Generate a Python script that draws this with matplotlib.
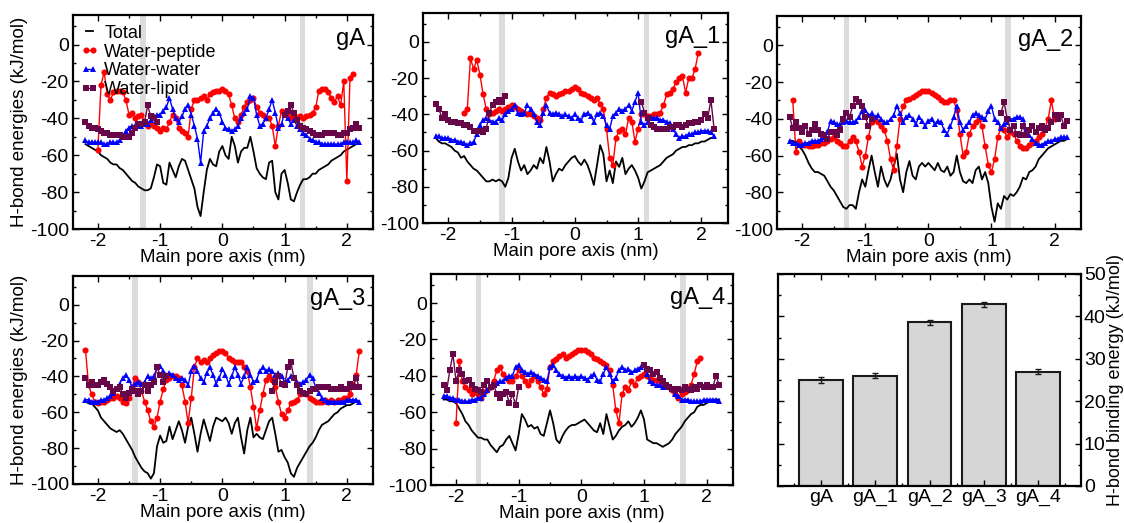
import numpy as np
import matplotlib
matplotlib.use("Agg")
import matplotlib.pyplot as plt
from matplotlib.ticker import MultipleLocator

plt.rcParams['font.family'] = ['Liberation Sans', 'DejaVu Sans']
plt.rcParams['axes.unicode_minus'] = False

nan = np.nan

# sampling positions along the pore axis (nm), 0.05 nm apart
pore_x = np.round(np.linspace(-2.2, 2.2, 89), 2)

# ---- gA ----
gA_total = [-54, -55, -56, -57, -58, -60, -61, -62, -64, -65,
            -65, -67, -68, -70, -72, -74, -75, -77, -78, -79,
            -79, -78, -72, -65, -66, -75, -76, -64, -68, -72,
            -66, -62, -63, -68, -73, -78, -88, -93, -80, -68,
            -62, -65, -66, -58, -55, -60, -62, -50, -55, -64,
            -58, -56, -56, -50, -58, -67, -70, -72, -73, -64,
            -63, -80, -84, -70, -68, -75, -84, -85, -80, -76,
            -73, -73, -72, -70, -70, -68, -67, -66, -65, -63,
            -62, -61, -60, -58, -57, -56, -55, -54, -53]
gA_pep = [nan, nan, nan, nan, -57, -22, -15, -27, -30, -26,
          -25, -25, -26, -30, -38, -37, -40, -39, -38, -42,
          -44, -43, -44, -45, -47, -45, -46, -42, -38, -40,
          -45, -47, -48, -50, -35, -30, -30, -29, -28, -30,
          -27, -26, -25, -25, -24, -25, -27, -33, -40, -42,
          -38, -34, -31, -30, -29, -34, -37, -38, -40, -40,
          -44, -55, -44, -36, -37, -39, -40, -38, -40, -39,
          -40, -39, -38, -37, -34, -25, -24, -24, -26, -29,
          -31, -28, -33, -20, -74, -18, -16, nan, nan]
gA_ww = [-52, -53, -53, -53, -53, -53, -54, -54, -53, -53,
         -53, -52, -50, -47, -45, -44, -44, -44, -44, -43,
         -43, -41, -39, -38, -38, -36, -34, -29, -35, -40,
         -42, -39, -35, -33, -38, -44, -51, -64, -47, -44,
         -40, -37, -35, -37, -42, -45, -46, -47, -46, -44,
         -40, -37, -35, -28, -29, -38, -44, -43, -40, -35,
         -30, -37, -45, -43, -37, -40, -43, -41, -44, -46,
         -48, -49, -51, -52, -53, -53, -54, -54, -54, -54,
         -54, -54, -54, -53, -53, -53, -53, -52, -53]
gA_lip = [-42, -44, -45, -45, -46, -47, -48, -48, -49, -49,
          -49, -49, -50, -50, -50, -48, -45, -43, -43, -42,
          -33, -39, -40, -42, nan, nan, nan, nan, nan, nan,
          nan, nan, nan, nan, nan, nan, nan, nan, nan, nan,
          nan, nan, nan, nan, nan, nan, nan, nan, nan, nan,
          nan, nan, nan, nan, nan, nan, nan, nan, nan, nan,
          nan, nan, nan, nan, -38, -36, -33, -37, -41, -44,
          -45, -46, -47, -48, -49, -49, -49, -48, -48, -48,
          -48, -49, -49, -48, -48, -46, -45, -43, -45]

# ---- gA_1 ----
gA1_total = [-53, -55, -56, -56, -57, -58, -60, -61, -64, -63,
             -66, -68, -70, -71, -73, -75, -77, -77, -76, -77,
             -76, -77, -80, -75, -64, -59, -66, -71, -68, -73,
             -71, -68, -70, -64, -67, -58, -66, -77, -73, -70,
             -71, -68, -66, -64, -63, -66, -68, -65, -68, -73,
             -79, -68, -57, -62, -77, -71, -78, -66, -69, -64,
             -73, -70, -68, -71, -75, -81, -77, -72, -71, -70,
             -69, -68, -66, -64, -63, -62, -60, -59, -58, -58,
             -57, -57, -56, -56, -55, -55, -54, -53, -53]
gA1_pep = [nan, nan, nan, nan, nan, nan, nan, nan, nan, -39,
           -37, -9, -15, -10, -18, -29, -37, -40, -39, -38,
           -37, -38, -37, -36, -35, -36, -37, -38, -39, -40,
           -40, -41, -42, -43, -37, -31, -28, -29, -30, -29,
           -28, -27, -27, -26, -25, -26, -28, -29, -30, -31,
           -32, -31, -34, -37, -48, -64, -68, -53, -49, -48,
           -51, -42, -44, -55, -48, -40, -40, -41, -41, -40,
           -40, -39, -35, -29, -28, -26, -22, -20, -19, -28,
           -20, -20, -15, -6, nan, nan, nan, nan, nan]
gA1_ww = [-52, -52, -53, -53, -53, -54, -54, -55, -55, -56,
          -57, -56, -55, -51, -46, -43, -42, -43, -44, -44,
          -42, -43, -40, -38, -37, -35, -39, -40, -39, -35,
          -37, -40, -44, -46, -39, -35, -39, -40, -39, -40,
          -41, -40, -41, -42, -40, -42, -43, -40, -39, -41,
          -44, -40, -39, -41, -46, -48, -41, -39, -37, -38,
          -37, -35, -38, -33, -28, -44, -46, -44, -42, -42,
          -42, -43, -43, -44, -45, -48, -51, -53, -52, -52,
          -51, -51, -50, -50, -49, -49, -49, -50, -52]
gA1_lip = [-34, -37, -42, -40, -43, -44, -44, -45, -45, -46,
           -46, -47, -49, -49, -49, -50, -48, -39, -35, -33,
           -32, -33, -30, nan, nan, nan, nan, nan, nan, nan,
           nan, nan, nan, nan, nan, nan, nan, nan, nan, nan,
           nan, nan, nan, nan, nan, nan, nan, nan, nan, nan,
           nan, nan, nan, nan, nan, nan, nan, nan, nan, nan,
           nan, nan, nan, nan, nan, -33, -39, -42, -46, -47,
           -48, -48, -48, -48, -47, -47, -46, -46, -47, -46,
           -45, -45, -44, -44, -43, -40, -42, -32, -48]

# ---- gA_2 ----
gA2_total = [-52, -52, -53, -55, -57, -60, -64, -67, -69, -69,
             -70, -71, -74, -77, -79, -82, -85, -88, -89, -87,
             -87, -89, -80, -73, -77, -68, -60, -69, -77, -66,
             -73, -77, -73, -66, -59, -73, -80, -69, -63, -71,
             -73, -66, -64, -66, -64, -66, -68, -64, -68, -69,
             -66, -71, -69, -60, -69, -74, -75, -73, -75, -68,
             -66, -73, -69, -75, -88, -96, -86, -89, -82, -84,
             -81, -82, -80, -77, -72, -73, -69, -68, -66, -62,
             -60, -58, -56, -55, -54, -53, -52, -52, -51]
gA2_pep = [nan, -30, -58, -52, -54, -54, -55, -55, -54, -54,
           -53, -53, -52, -51, -50, -52, -53, -55, -55, -52,
           -50, -52, -58, -66, -60, -50, -42, -40, -42, -44,
           -46, -52, -62, -68, -55, -40, -33, -30, -29, -28,
           -27, -26, -25, -25, -25, -26, -27, -28, -30, -31,
           -31, -30, -30, -35, -48, -60, -58, -48, -44, -42,
           -40, -44, -55, -65, -69, -62, -50, -45, -46, -50,
           -47, -48, -52, -55, -56, -56, -54, -53, -52, -50,
           -48, -45, -40, -30, -40, nan, nan, nan, nan]
gA2_ww = [-52, -53, -53, -54, -54, -53, -53, -52, -52, -52,
          -51, -50, -47, -41, -42, -43, -43, -42, -41, -42,
          -42, -41, -39, -36, -35, -38, -37, -39, -38, -40,
          -42, -42, -40, -38, -33, -37, -42, -39, -38, -40,
          -43, -39, -41, -44, -41, -40, -43, -41, -42, -46,
          -48, -44, -39, -33, -42, -46, -44, -42, -38, -37,
          -38, -39, -40, -36, -33, -40, -42, -45, -43, -42,
          -40, -40, -39, -39, -40, -46, -49, -51, -53, -54,
          -54, -53, -52, -52, -51, -51, -50, -50, -50]
gA2_lip = [-39, -45, -42, -45, -47, -44, -48, -46, -43, -46,
           -48, -49, -51, -47, -47, -49, -46, -40, -37, -39,
           -33, -29, -31, -33, -39, -44, -40, nan, nan, nan,
           nan, nan, nan, nan, nan, nan, nan, nan, nan, nan,
           nan, nan, nan, nan, nan, nan, nan, nan, nan, nan,
           nan, nan, nan, nan, nan, nan, nan, nan, nan, nan,
           nan, nan, nan, nan, nan, nan, nan, -37, -31, -40,
           -46, -44, -48, -49, -44, -49, -46, -44, -47, -45,
           -44, -46, -45, -42, -38, -40, -38, -44, -41]

# ---- gA_3 ----
gA3_total = [-54, -55, -55, -57, -59, -63, -65, -67, -69, -70,
             -71, -70, -72, -75, -78, -81, -85, -88, -91, -93,
             -94, -97, -94, -79, -73, -77, -76, -68, -75, -70,
             -65, -70, -77, -68, -63, -72, -82, -72, -64, -70,
             -76, -68, -63, -64, -65, -63, -66, -72, -66, -63,
             -74, -83, -70, -63, -74, -72, -74, -75, -70, -65,
             -63, -72, -82, -81, -85, -88, -94, -96, -91, -88,
             -85, -82, -79, -77, -74, -70, -67, -66, -65, -63,
             -61, -60, -58, -57, -56, -56, -55, -54, -54]
gA3_pep = [-25, -45, -50, -54, -55, -54, -54, -53, -52, -52,
           -51, -52, -54, -55, -52, -46, -41, -43, -48, -54,
           -59, -65, -68, -63, -54, -47, -42, -41, -40, -40,
           -41, -45, -54, -66, -52, -35, -30, -32, -31, -32,
           -30, -28, -27, -26, -26, -27, -30, -31, -32, -32,
           -32, -35, -37, -46, -57, -69, -59, -50, -42, -40,
           -42, -46, -54, -61, -63, -59, -55, -54, -53, -50,
           -49, -50, -52, -53, -54, -54, -54, -53, -54, -53,
           -54, -53, -53, -52, -52, -50, -45, -39, -26]
gA3_ww = [-53, -53, -54, -54, -54, -53, -53, -52, -51, -49,
          -47, -44, -41, -39, -42, -46, -44, -43, -44, -43,
          -40, -41, -40, -35, -34, -37, -39, -38, -39, -41,
          -42, -41, -42, -45, -37, -34, -37, -41, -43, -38,
          -35, -39, -44, -41, -36, -39, -44, -40, -35, -39,
          -44, -40, -35, -39, -43, -42, -37, -35, -37, -36,
          -37, -39, -38, -40, -43, -42, -40, -41, -43, -44,
          -43, -42, -39, -41, -46, -49, -52, -53, -54, -54,
          -54, -54, -54, -54, -53, -53, -53, -53, -54]
gA3_lip = [-41, -45, -43, -45, -45, -43, -42, -44, -46, -48,
           -47, -46, -50, -52, -49, -47, -48, -50, -48, -45,
           -48, -45, -43, -35, -39, -43, -40, nan, nan, nan,
           nan, nan, nan, nan, nan, nan, nan, nan, nan, nan,
           nan, nan, nan, nan, nan, nan, nan, nan, nan, nan,
           nan, nan, nan, nan, nan, nan, nan, nan, nan, nan,
           -48, -43, -40, -44, -45, -35, -32, -41, -45, -48,
           -49, -50, -48, -47, -47, -46, -46, -46, -46, -47,
           -47, -47, -46, -47, -47, -44, -46, -41, -46]

# ---- gA_4 ----
gA4_total = [-53, -53, -54, -54, -55, -58, -61, -65, -67, -70,
             -72, -74, -74, -75, -75, -78, -80, -82, -79, -78,
             -75, -73, -77, -81, -72, -61, -64, -68, -67, -69,
             -68, -72, -73, -66, -59, -66, -75, -77, -73, -70,
             -68, -67, -67, -66, -65, -64, -66, -68, -70, -71,
             -66, -72, -61, -68, -75, -73, -70, -68, -67, -65,
             -68, -66, -63, -59, -64, -75, -76, -77, -77, -78,
             -79, -78, -77, -75, -72, -70, -68, -65, -63, -61,
             -60, -57, -56, -56, -55, -54, -54, -53, -53]
gA4_pep = [nan, nan, nan, nan, -66, -32, -43, -46, -48, -50,
           -49, -50, -52, -49, -48, -46, -43, -37, -35, -39,
           -41, -43, -43, -40, -37, -40, -43, -45, -42, -40,
           -43, -46, -50, -47, -35, -32, -31, -29, -28, -30,
           -29, -28, -27, -26, -26, -26, -27, -28, -30, -31,
           -32, -33, -34, -37, -45, -59, -66, -50, -46, -48,
           -43, -45, -41, -40, -39, -40, -41, -42, -42, -43,
           -44, -45, -46, -48, -50, -52, -50, -49, -48, -45,
           -39, -32, -30, nan, nan, nan, nan, nan, nan]
gA4_ww = [-51, -51, -52, -52, -53, -53, -54, -54, -54, -53,
          -53, -52, -52, -50, -48, -46, -45, -44, -43, -43,
          -41, -40, -40, -35, -34, -37, -38, -39, -38, -39,
          -40, -41, -42, -43, -35, -34, -37, -39, -40, -41,
          -40, -41, -40, -41, -40, -41, -42, -40, -39, -42,
          -43, -39, -35, -39, -43, -41, -37, -35, -37, -36,
          -38, -37, -36, -35, -34, -39, -43, -44, -45, -45,
          -46, -46, -46, -47, -50, -51, -53, -53, -53, -54,
          -54, -54, -54, -53, -53, -53, -53, -53, -54]
gA4_lip = [-45, -48, -37, -28, -43, -37, -39, -43, -42, -45,
           -47, -48, -49, -45, -43, -46, -45, -50, -52, -50,
           -49, -55, -50, -56, -46, nan, nan, nan, nan, nan,
           nan, nan, nan, nan, nan, nan, nan, nan, nan, nan,
           nan, nan, nan, nan, nan, nan, nan, nan, nan, nan,
           nan, nan, nan, nan, nan, nan, nan, nan, nan, nan,
           nan, nan, nan, nan, -34, -36, -37, -39, -38, -41,
           -43, -45, -46, -47, -48, -47, -48, -46, -47, -48,
           -46, -47, -45, -46, -45, -46, -46, -40, -45]

panel_names = ['gA', 'gA_1', 'gA_2', 'gA_3', 'gA_4']
panel_data = [
    (gA_total, gA_pep, gA_ww, gA_lip),
    (gA1_total, gA1_pep, gA1_ww, gA1_lip),
    (gA2_total, gA2_pep, gA2_ww, gA2_lip),
    (gA3_total, gA3_pep, gA3_ww, gA3_lip),
    (gA4_total, gA4_pep, gA4_ww, gA4_lip),
]
# pore entrance positions (grey bands)
entrances = [(-1.28, 1.29), (-1.15, 1.13), (-1.30, 1.26), (-1.40, 1.41), (-1.64, 1.62)]

# binding energy bars
bar_labels = ['gA', 'gA_1', 'gA_2', 'gA_3', 'gA_4']
bar_values = [25.0, 26.0, 38.6, 42.9, 27.0]
bar_errors = [0.6, 0.6, 0.6, 0.6, 0.6]

series_labels = ['Total', 'Water-peptide', 'Water-water', 'Water-lipid']
series_style = [
    dict(color='black', lw=1.3),
    dict(color='#ff0000', lw=1.0, marker='o', ms=4.4, mew=0),
    dict(color='#0000ff', lw=1.0, marker='^', ms=4.8, mew=0),
    dict(color='#67074a', lw=1.0, marker='s', ms=4.2, mew=0),
]

W, H = 1124, 523
fig = plt.figure(figsize=(W / 100, H / 100), dpi=100)


def px_axes(l, t, r, b):
    return fig.add_axes([l / W, 1 - b / H, (r - l) / W, (b - t) / H])


boxes = [(73, 15, 373, 229), (423, 13, 728, 223), (777, 16, 1081, 229),
         (73, 276, 373, 484), (431, 274, 733, 485)]


def style_axes(ax):
    for s in ax.spines.values():
        s.set_linewidth(1.6)
    ax.tick_params(which='both', direction='in', top=True, right=True,
                   labelsize=14, width=1.0, pad=3)
    ax.tick_params(which='major', length=4)
    ax.tick_params(which='minor', length=2.2)


for i, (name, data) in enumerate(zip(panel_names, panel_data)):
    ax = px_axes(*boxes[i])
    for c in entrances[i]:
        ax.axvspan(c - 0.045, c + 0.045, color='#dcdcdc', lw=0, zorder=0)
    for vals, lab, st in zip(data, series_labels, series_style):
        ax.plot(pore_x, vals, label=lab, **st)
    ax.set_xlim(-2.4, 2.42)
    ax.set_ylim(-100, 16)
    ax.xaxis.set_major_locator(MultipleLocator(1))
    ax.xaxis.set_minor_locator(MultipleLocator(0.5))
    ax.yaxis.set_major_locator(MultipleLocator(20))
    ax.yaxis.set_minor_locator(MultipleLocator(10))
    style_axes(ax)
    ax.set_xlabel('Main pore axis (nm)', fontsize=13.5, labelpad=-1)
    if i in (0, 3):
        ax.set_ylabel('H-bond energies (kJ/mol)', fontsize=13.5, labelpad=1)
    ax.text(0.975, 0.94, name, transform=ax.transAxes, ha='right', va='top',
            fontsize=17)
    if i == 0:
        ax.legend(loc='upper left', bbox_to_anchor=(-0.01, 1.005), frameon=False,
                  fontsize=13, handlelength=1.0, handletextpad=0.3,
                  labelspacing=0.1, borderaxespad=0.2, numpoints=2)

# bar panel
axb = px_axes(778, 274, 1081, 486)
pos = np.arange(1, len(bar_values) + 1)
axb.bar(pos, bar_values, width=0.81, color='#d6d6d6', edgecolor='#1a1a1a',
        lw=1.5, yerr=bar_errors, capsize=2.5,
        error_kw=dict(elinewidth=1.0, capthick=1.0, ecolor='#1a1a1a'))
axb.set_xlim(0.2, 5.8)
axb.set_ylim(0, 50)
axb.set_xticks(pos)
axb.set_xticklabels(bar_labels)
axb.xaxis.set_minor_locator(MultipleLocator(0.5))
axb.yaxis.set_major_locator(MultipleLocator(10))
axb.yaxis.set_minor_locator(MultipleLocator(5))
style_axes(axb)
axb.tick_params(labelleft=False, labelright=True, pad=2)
axb.yaxis.set_label_position('right')
axb.set_ylabel('H-bond binding energy (kJ/mol)', fontsize=13, labelpad=1)

fig.savefig('out.png', dpi=100)
